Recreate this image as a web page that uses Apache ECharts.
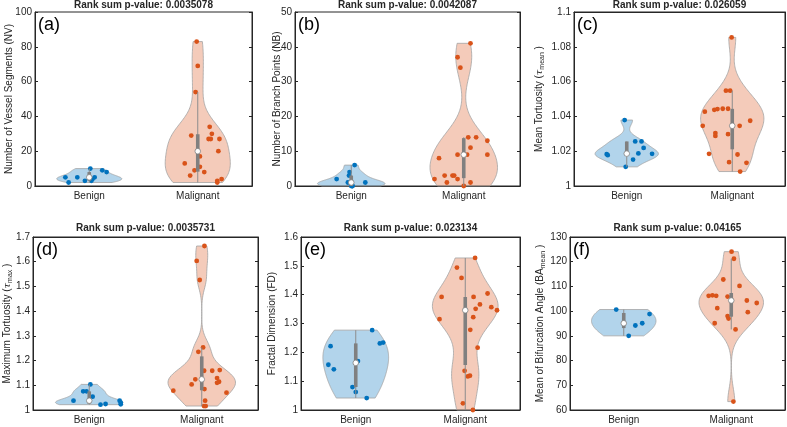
<!DOCTYPE html>
<html lang="en">
<head>
<meta charset="UTF-8" />
<title>Violin plots</title>
<script src="https://cdn.jsdelivr.net/npm/echarts@6/dist/echarts.min.js"></script>
<style>
  html, body { margin: 0; padding: 0; background: #fff; }
  #chart { width: 787px; height: 427px; }
</style>
</head>
<body>
<div id="chart"></div>
<script>
// groups on the x axis
var groups = ['Benign', 'Malignant'];

// each point: [jitter offset (fraction of a category), value]
// (a) number of vessel segments
var nvBenign = [[-0.22, 5], [-0.19, 2], [-0.11, 5], [-0.04, 3], [0.01, 10], [0.02, 3], [0.03, 4], [0.05, 5], [0.12, 9], [0.16, 8]];
var nvMalignant = [[-0.01, 83], [0.0, 69], [-0.02, 54], [-0.06, 29], [0.11, 34], [0.13, 30], [0.10, 27], [0.12, 27], [0.20, 27], [0.19, 20],
  [0.02, 17], [-0.12, 13], [0.02, 11], [-0.03, 9], [0.06, 8], [-0.07, 6], [0.18, 3], [0.18, 2], [0.22, 4]];
// (b) number of branch points
var nbBenign = [[-0.13, 2], [0.03, 6], [-0.02, 3], [-0.015, 4], [-0.03, 1], [0.125, 1], [0.0, 0], [0.01, 0], [0.0, 1], [0.01, 0]];
var nbMalignant = [[0.06, 41], [-0.055, 37], [-0.03, 34], [0.04, 14], [0.11, 14], [0.21, 13], [0.06, 11], [-0.22, 8], [-0.055, 9], [0.03, 9],
  [0.21, 9], [-0.17, 3], [-0.10, 3], [-0.085, 3], [-0.26, 2], [-0.15, 1], [-0.055, 2], [0.06, 1], [0.0, 0]];
// (c) mean tortuosity
var mtBenign = [[-0.19, 1.0183], [-0.18, 1.0177], [-0.02, 1.0379], [-0.01, 1.011], [0.06, 1.0152], [0.08, 1.0256], [0.11, 1.0187],
  [0.14, 1.0256], [0.16, 1.0219], [0.24, 1.0185]];
var mtMalignant = [[-0.006, 1.0854], [-0.06, 1.0548], [-0.02, 1.0548], [-0.26, 1.0427], [-0.17, 1.0438], [-0.14, 1.0442], [-0.09, 1.0444],
  [-0.04, 1.0444], [-0.28, 1.0346], [-0.16, 1.0304], [-0.16, 1.0288], [-0.04, 1.0298], [0.07, 1.0346], [0.17, 1.0375], [-0.22, 1.0185],
  [0.05, 1.0181], [-0.03, 1.0137], [0.135, 1.0133], [0.075, 1.0083]];
// (d) maximum tortuosity
var mxBenign = [[-0.14, 1.0377], [-0.054, 1.0754], [-0.024, 1.0754], [0.01, 1.1036], [0.03, 1.0538], [0.10, 1.0215], [0.145, 1.0242],
  [0.27, 1.0377], [0.28, 1.0296], [0.28, 1.0229]];
var mxMalignant = [[0.024, 1.6635], [-0.045, 1.603], [-0.018, 1.526], [0.012, 1.253], [-0.03, 1.2355], [-0.253, 1.078], [-0.09, 1.1036],
  [-0.057, 1.124], [0.021, 1.1588], [0.093, 1.1588], [0.16, 1.1615], [0.136, 1.129], [0.154, 1.1144], [0.136, 1.110], [0.024, 1.0848],
  [0.22, 1.07], [0.03, 1.0377], [0.02, 1.016], [0.035, 1.016]];
// (e) fractal dimension
var fdBenign = [[-0.23, 1.2215], [-0.25, 1.157], [-0.20, 1.141], [-0.03, 1.0796], [0.0, 1.0623], [0.02, 1.1696], [0.10, 1.0415],
  [0.15, 1.277], [0.22, 1.231], [0.25, 1.234]];
var fdMalignant = [[0.09, 1.5273], [-0.076, 1.4938], [-0.034, 1.458], [-0.216, 1.392], [0.076, 1.392], [0.204, 1.404], [0.134, 1.366],
  [0.095, 1.351], [0.238, 1.3565], [0.29, 1.346], [-0.235, 1.315], [0.073, 1.322], [0.046, 1.278], [0.113, 1.216], [-0.006, 1.136],
  [0.024, 1.1165], [0.043, 1.119], [-0.021, 1.023], [0.07, 1.0]];
// (f) mean bifurcation angle
var baBenign = [[-0.07, 100.65], [0.046, 90.0], [0.108, 94.2], [0.172, 95.1], [0.24, 98.8]];
var baMalignant = [[0.003, 124.07], [0.025, 121.2], [-0.074, 112.8], [0.077, 110.2], [-0.21, 106.2], [-0.175, 106.4], [-0.14, 106.2],
  [-0.034, 105.9], [0.145, 104.3], [0.237, 103.3], [-0.13, 101.2], [0.154, 99.6], [-0.034, 98.0], [-0.025, 97.0], [-0.154, 95.1],
  [0.04, 92.6], [0.02, 63.4]];

var pValues = ['0.0035078', '0.0042087', '0.026059', '0.0035731', '0.023134', '0.04165'];
var letters = ['(a)', '(b)', '(c)', '(d)', '(e)', '(f)'];
var yMins = [0, 0, 1, 1, 1, 60];
var yMaxs = [100, 50, 1.1, 1.7, 1.6, 130];
var ySteps = [20, 10, 0.02, 0.1, 0.1, 10];

var textColor = '#262626';
var fontFamily = 'Liberation Sans, Arial, sans-serif';
var fillColors = ['rgba(0,114,189,0.3)', 'rgba(217,83,25,0.3)'];
var dotColors = ['#0072BD', '#D95319'];

var nameRich = {
  n: { fontSize: 10, lineHeight: 11, verticalAlign: 'top', color: textColor, fontFamily: fontFamily },
  t: { fontSize: 10, lineHeight: 11, verticalAlign: 'top', fontStyle: 'italic', color: textColor, fontFamily: 'DejaVu Serif' },
  s: { fontSize: 7, lineHeight: 7, padding: [5, 0, 0, 0], verticalAlign: 'top', color: textColor, fontFamily: fontFamily }
};

var panels = [
  { name: '{n|Number of Vessel Segments (NV)}', data: [nvBenign, nvMalignant], rect: [35, 12, 217, 174], gap: 20, titleY: 5 },
  { name: '{n|Number of Branch Points (NB)}', data: [nbBenign, nbMalignant], rect: [295, 12, 225, 174], gap: 12, titleY: 5 },
  { name: '{n|Mean Tortuosity (}{t|τ}{s|mean}{n| )}', data: [mtBenign, mtMalignant], rect: [574, 12, 211, 174], gap: 29, titleY: 5 },
  { name: '{n|Maximum Tortuosity (}{t|τ}{s|max}{n| )}', data: [mxBenign, mxMalignant], rect: [33, 237, 225, 173], gap: 20, titleY: 228.5 },
  { name: '{n|Fractal Dimension (FD)}', data: [fdBenign, fdMalignant], rect: [301, 237, 219, 173], gap: 23, titleY: 228.5 },
  { name: '{n|Mean of Bifurcation Angle (BA}{s|mean}{n| )}', data: [baBenign, baMalignant], rect: [570, 237, 215, 173], gap: 24, titleY: 228.5 }
];

// MATLAB style quantile on sorted values
function quantile(s, p) {
  var n = s.length, pos = n * p + 0.5;
  if (pos <= 1) return s[0];
  if (pos >= n) return s[n - 1];
  var i = Math.floor(pos), f = pos - i;
  return s[i - 1] + f * (s[i] - s[i - 1]);
}

// kernel density (normal kernel, ksdensity default bandwidth) + box stats
function violinStats(points) {
  var s = points.map(function (p) { return p[1]; }).sort(function (a, b) { return a - b; });
  var n = s.length;
  var med = quantile(s, 0.5);
  var dev = s.map(function (v) { return Math.abs(v - med); }).sort(function (a, b) { return a - b; });
  var sig = quantile(dev, 0.5) / 0.6745;
  if (sig <= 0) sig = s[n - 1] - s[0];
  var bw = sig * Math.pow(4 / (3 * n), 0.2);
  var lo = s[0], hi = s[n - 1];
  var ys = [], dens = [];
  for (var i = 0; i <= 100; i++) {
    var y = lo + (hi - lo) * i / 100, d = 0;
    for (var k = 0; k < n; k++) {
      var u = (y - s[k]) / bw;
      d += Math.exp(-0.5 * u * u);
    }
    ys.push(y);
    dens.push(d);
  }
  var maxD = Math.max.apply(null, dens);
  var q1 = quantile(s, 0.25), q3 = quantile(s, 0.75), iqr = q3 - q1;
  var wLo = q1 - 1.5 * iqr, wHi = q3 + 1.5 * iqr;
  wLo = Math.max(wLo, Math.min.apply(null, s.filter(function (v) { return v > wLo; })));
  wHi = Math.min(wHi, Math.max.apply(null, s.filter(function (v) { return v < wHi; })));
  return {
    ys: ys,
    half: dens.map(function (d) { return 0.3 * d / maxD; }),
    q1: q1, q3: q3, med: med, wLo: wLo, wHi: wHi
  };
}

function makeRender(panel) {
  var stats = panel.data.map(violinStats);
  return function (params, api) {
    var g = params.dataIndex;
    var st = stats[g];
    var pts = panel.data[g];
    var bandW = api.size([1, 0])[0];
    var cx = api.coord([g, st.med])[0];
    var poly = [];
    for (var i = 0; i < st.ys.length; i++) {
      poly.push([cx + st.half[i] * bandW, api.coord([g, st.ys[i]])[1]]);
    }
    for (var j = st.ys.length - 1; j >= 0; j--) {
      poly.push([cx - st.half[j] * bandW, api.coord([g, st.ys[j]])[1]]);
    }
    var children = [{
      type: 'polygon',
      shape: { points: poly },
      style: { fill: fillColors[g], stroke: '#a3a3a3', lineWidth: 0.8 }
    }];
    pts.forEach(function (p) {
      children.push({
        type: 'circle',
        shape: { cx: cx + p[0] * bandW, cy: api.coord([g, p[1]])[1], r: 2.4 },
        style: { fill: dotColors[g] }
      });
    });
    var yLo = api.coord([g, st.wLo])[1], yHi = api.coord([g, st.wHi])[1];
    var yQ1 = api.coord([g, st.q1])[1], yQ3 = api.coord([g, st.q3])[1];
    children.push({
      type: 'line',
      shape: { x1: cx, y1: yLo, x2: cx, y2: yHi },
      style: { stroke: '#8c8c8c', lineWidth: 1 }
    });
    children.push({
      type: 'rect',
      shape: { x: cx - 1.8, y: yQ3, width: 3.6, height: yQ1 - yQ3 },
      style: { fill: '#808080' }
    });
    children.push({
      type: 'circle',
      shape: { cx: cx, cy: api.coord([g, st.med])[1], r: 2.8 },
      style: { fill: '#ffffff', stroke: '#808080', lineWidth: 0.8 }
    });
    return { type: 'group', children: children };
  };
}

var chart = echarts.init(document.getElementById('chart'));
var option = { animation: false, grid: [], xAxis: [], yAxis: [], series: [], graphic: [] };

panels.forEach(function (panel, i) {
  var r = panel.rect;
  option.grid.push({ left: r[0], top: r[1], width: r[2], height: r[3], show: true, borderColor: '#262626', borderWidth: 1 });
  option.xAxis.push({
    type: 'category', gridIndex: i, data: groups, boundaryGap: true,
    axisLine: { lineStyle: { color: textColor } },
    axisTick: { alignWithLabel: true, inside: true, length: 3, lineStyle: { color: textColor } },
    axisLabel: { color: textColor, fontSize: 10, fontFamily: fontFamily, margin: 5 }
  });
  option.xAxis.push({
    type: 'category', gridIndex: i, data: groups, position: 'top', boundaryGap: true,
    axisLine: { lineStyle: { color: textColor } },
    axisTick: { alignWithLabel: true, inside: true, length: 3, lineStyle: { color: textColor } },
    axisLabel: { show: false }
  });
  option.yAxis.push({
    type: 'value', gridIndex: i, min: yMins[i], max: yMaxs[i], interval: ySteps[i],
    name: panel.name, nameLocation: 'middle', nameGap: panel.gap, nameMoveOverlap: false,
    nameTextStyle: { rich: nameRich },
    axisLine: { show: true, lineStyle: { color: textColor } },
    axisTick: { show: true, inside: true, length: 3, lineStyle: { color: textColor } },
    axisLabel: { color: textColor, fontSize: 10, fontFamily: fontFamily, margin: 3 },
    splitLine: { show: false }
  });
  option.yAxis.push({
    type: 'value', gridIndex: i, min: yMins[i], max: yMaxs[i], interval: ySteps[i], position: 'right',
    axisLine: { show: true, lineStyle: { color: textColor } },
    axisTick: { show: true, inside: true, length: 3, lineStyle: { color: textColor } },
    axisLabel: { show: false },
    splitLine: { show: false }
  });
  option.series.push({
    type: 'custom', xAxisIndex: 2 * i, yAxisIndex: 2 * i,
    renderItem: makeRender(panel),
    encode: { x: 0, y: 1 },
    data: [[0, yMins[i]], [1, yMins[i]]],
    clip: false, silent: true
  });
  option.graphic.push({
    type: 'text', x: r[0] + r[2] / 2, y: panel.titleY,
    style: { text: 'Rank sum p-value: ' + pValues[i], textAlign: 'center', textVerticalAlign: 'middle',
      font: 'bold 10px ' + fontFamily, fill: textColor }
  });
  option.graphic.push({
    type: 'text', x: r[0] + 3, y: r[1] + 13.5,
    style: { text: letters[i], textAlign: 'left', textVerticalAlign: 'middle',
      font: '18px ' + fontFamily, fill: '#000000' }
  });
});

chart.setOption(option);
</script>
</body>
</html>
